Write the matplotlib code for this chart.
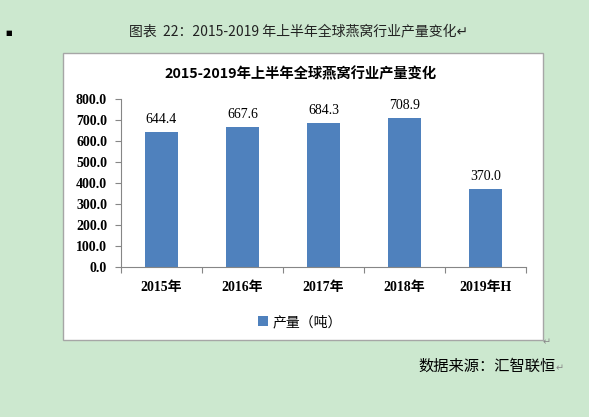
import matplotlib.pyplot as plt
from matplotlib.patches import Rectangle

plt.rcParams['font.family'] = ['Liberation Serif', 'Noto Sans CJK SC', 'DejaVu Sans']

years = ['2015年', '2016年', '2017年', '2018年', '2019年H']
output = [644.4, 667.6, 684.3, 708.9, 370.0]
yticks = [0, 100, 200, 300, 400, 500, 600, 700, 800]

W, H = 589, 417
fig = plt.figure(figsize=(W / 100, H / 100), dpi=100)
fig.patch.set_facecolor('#cce8cf')

# white chart frame
box = Rectangle((63 / W, 1 - 340 / H), (543 - 63) / W, (340 - 53) / H,
                transform=fig.transFigure, facecolor='white',
                edgecolor='#a6a6a6', lw=1.0, zorder=-5)
fig.patches.append(box)

fig.text(299 / W, 1 - 31 / H, '图表  22：2015-2019 年上半年全球燕窝行业产量变化↵',
         ha='center', va='center', fontsize=10,
         family=['Noto Sans CJK SC', 'DejaVu Sans'], color='#222222')
fig.text(301 / W, 1 - 74 / H, '2015-2019年上半年全球燕窝行业产量变化',
         ha='center', va='center', fontsize=10.3, fontweight='bold',
         family=['Noto Sans CJK SC'])
fig.text(5 / W, 1 - 33 / H, '■', ha='left', va='center', fontsize=5,
         family='DejaVu Sans')
fig.text(418 / W, 1 - 366 / H, '数据来源：汇智联恒', ha='left', va='center',
         fontsize=11, family=['Noto Sans CJK SC', 'DejaVu Sans'])
fig.text(556 / W, 1 - 368 / H, '↵', ha='left', va='center', fontsize=7,
         family='DejaVu Sans', color='#888888')
fig.text(543 / W, 1 - 342 / H, '↵', ha='left', va='center', fontsize=7,
         family='DejaVu Sans', color='#888888')

ax = fig.add_axes([121 / W, 1 - 267 / H, (526 - 121) / W, (267 - 99) / H])
ax.set_facecolor('none')
x = range(len(years))
bars = ax.bar(x, output, width=0.4, color='#4f81bd', label='产量（吨）')
for xi, v in zip(x, output):
    ax.text(xi, v + 28, f'{v:.1f}', ha='center', va='bottom', fontsize=10)

ax.set_xlim(-0.5, len(years) - 0.5)
ax.set_ylim(0, 800)
ax.set_yticks(yticks)
ax.set_yticklabels([f'{t:.1f}' for t in yticks], fontweight='bold', fontsize=10)
ax.set_xticks([i - 0.5 for i in range(len(years) + 1)])
ax.set_xticklabels([])
ax.set_xticks(list(x), minor=True)
ax.set_xticklabels(years, minor=True, fontweight='bold', fontsize=10)
ax.tick_params(axis='x', which='minor', length=0, pad=10)
ax.tick_params(axis='x', which='major', length=4, color='#868686')
ax.tick_params(axis='y', length=4, color='#868686', pad=6)
for s in ['top', 'right']:
    ax.spines[s].set_visible(False)
for s in ['left', 'bottom']:
    ax.spines[s].set_color('#868686')

ax.legend(loc='center', bbox_to_anchor=(300 / W, 1 - 322 / H),
          bbox_transform=fig.transFigure, frameon=False, handlelength=0.7,
          handleheight=0.7, handletextpad=0.3,
          prop={'family': ['Noto Sans CJK SC'], 'size': 10})

fig.savefig('out.png', dpi=100, facecolor=fig.get_facecolor())
